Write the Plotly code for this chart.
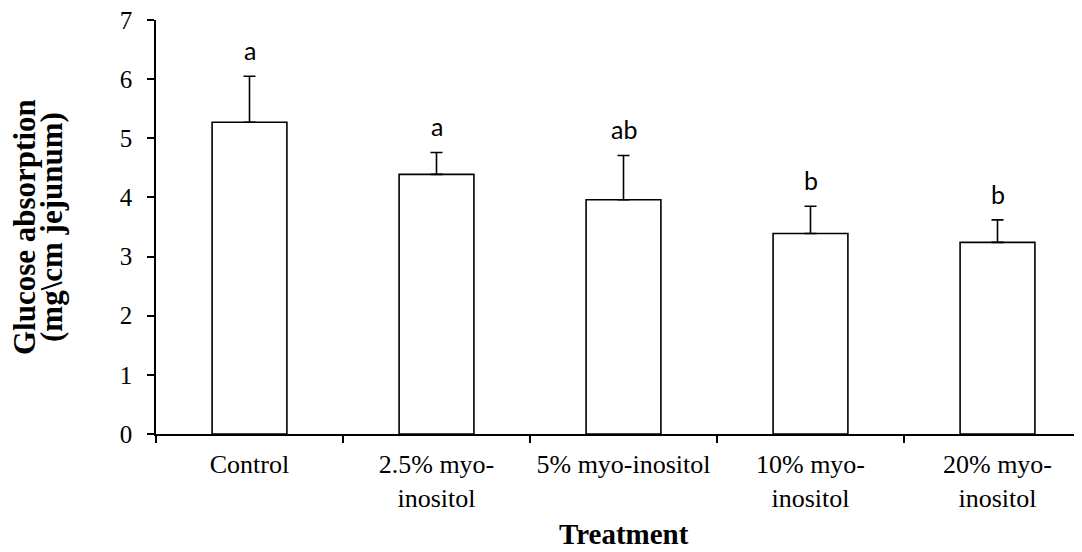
import plotly.graph_objects as go

categories = ["Control", "2.5% myo-<br>inositol", "5% myo-inositol",
              "10% myo-<br>inositol", "20% myo-<br>inositol"]
means = [5.27, 4.39, 3.96, 3.39, 3.24]
sd = [0.78, 0.37, 0.75, 0.46, 0.38]
letters = ["a", "a", "ab", "b", "b"]
y_ticks = [0, 1, 2, 3, 4, 5, 6, 7]

# page body has an 8px margin; size the figure so it fits the 1082x552 window
OFF = 8
W, H = 1082 - OFF, 552 - OFF
L, R, T, B = 156 - OFF, 0, 20 - OFF, 552 - 434

fig = go.Figure()
fig.add_trace(go.Bar(
    x=categories, y=means,
    marker=dict(color="white", line=dict(color="black", width=1.6)),
    error_y=dict(type="data", array=sd, arrayminus=[0] * len(sd), symmetric=False,
                 color="black", thickness=1.6, width=6),
    width=0.4,
    showlegend=False,
))

for i, (m, s, lab) in enumerate(zip(means, sd, letters)):
    fig.add_annotation(x=i, y=m + s, xref="x", yref="y", text=lab, showarrow=False,
                       yanchor="bottom", yshift=9,
                       font=dict(family="Lato", size=25, color="black"))

plot_w = W - L - R
cat_px = 187.0
x_end = plot_w / cat_px - 0.5

# y-axis title (two lines), positions in page pixels
fig.add_annotation(x=(24 - 156) / plot_w, y=0.5, xref="paper", yref="paper",
                   text="<b>Glucose absorption</b>", textangle=-90, showarrow=False,
                   xanchor="center", yanchor="middle",
                   font=dict(family="Liberation Serif", size=31, color="black"))
fig.add_annotation(x=(51 - 156) / plot_w, y=0.5, xref="paper", yref="paper",
                   text="<b>(mg\\cm jejunum)</b>", textangle=-90, showarrow=False,
                   xanchor="center", yanchor="middle",
                   font=dict(family="Liberation Serif", size=31, color="black"))
# x-axis title centred on the full category axis
fig.add_annotation(x=2, y=0, xref="x", yref="paper", text="<b>Treatment</b>",
                   showarrow=False, xanchor="center", yanchor="middle", yshift=-100,
                   font=dict(family="Liberation Serif", size=29, color="black"))

fig.update_layout(
    width=W, height=H,
    margin=dict(l=L, r=R, t=T, b=B),
    plot_bgcolor="white", paper_bgcolor="white",
    font=dict(family="Liberation Serif", color="black"),
)
fig.update_xaxes(
    type="category", range=[-0.5, x_end],
    showline=True, linecolor="black", linewidth=1.6,
    ticks="outside", tickson="boundaries", ticklen=7, tickwidth=1.6, tickcolor="black",
    tickfont=dict(family="Liberation Serif", size=26, color="black"),
    ticklabelstandoff=6, ticklabeloverflow="allow",
    showgrid=False, zeroline=False,
)
fig.update_yaxes(
    range=[0, 7], tickvals=y_ticks,
    showline=True, linecolor="black", linewidth=1.6,
    ticks="outside", ticklen=7, tickwidth=1.6, tickcolor="black",
    tickfont=dict(family="Liberation Serif", size=25, color="black"),
    ticklabelstandoff=10, ticklabeloverflow="allow",
    showgrid=False, zeroline=False,
)

fig.write_html("out.html")
